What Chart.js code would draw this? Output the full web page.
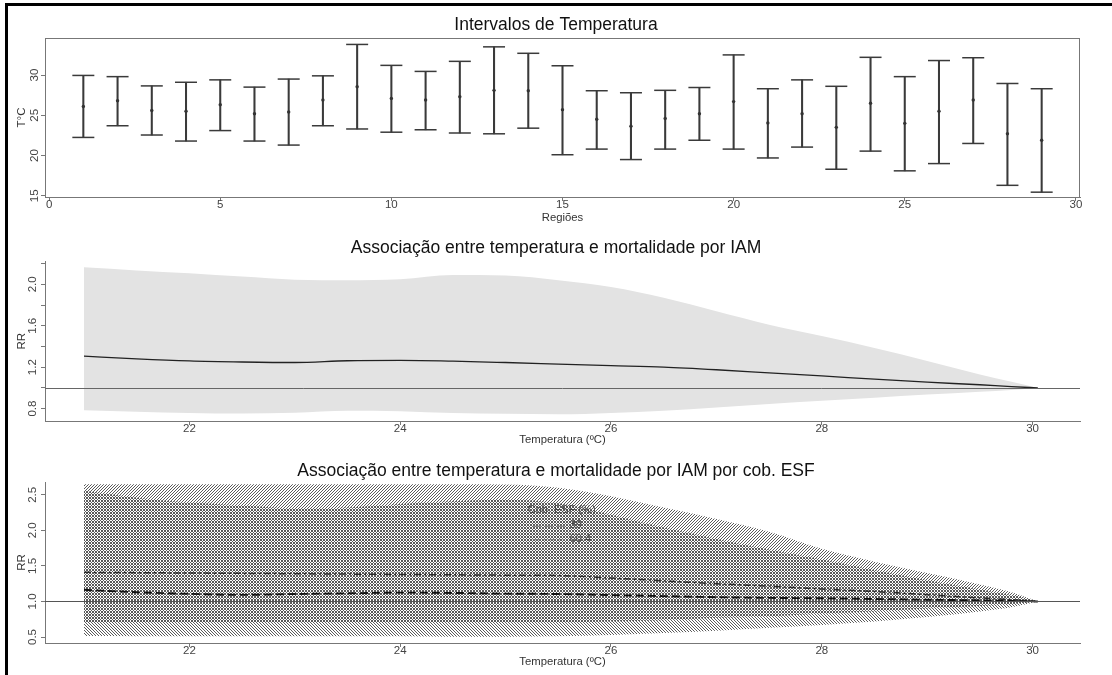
<!DOCTYPE html>
<html>
<head>
<meta charset="utf-8">
<script src="https://cdn.jsdelivr.net/npm/chart.js@4.4.1/dist/chart.umd.min.js"></script>
<style>
  html, body { margin:0; padding:0; background:#fff; width:1112px; height:675px; overflow:hidden; }
  .panel { position:absolute; left:0; }
  .panel canvas { display:block; }
  #frame { position:absolute; left:5px; top:3px; width:1120px; height:690px;
           border-left:3px solid #000; border-top:3px solid #000; pointer-events:none; z-index:5; }
</style>
</head>
<body>
<div class="panel" style="top:0px"><canvas id="c1" width="1112" height="228"></canvas></div>
<div class="panel" style="top:228px"><canvas id="c2" width="1112" height="222"></canvas></div>
<div class="panel" style="top:450px"><canvas id="c3" width="1112" height="225"></canvas></div>
<div id="frame"></div>
<script>
// ---------------- Panel 1: temperature intervals per region ----------------
const REGIONS = [1,2,3,4,5,6,7,8,9,10,11,12,13,14,15,16,17,18,19,20,21,22,23,24,25,26,27,28,29];
const T_MEAN = [26.1,26.8,25.6,25.5,26.3,25.2,25.4,26.9,28.55,27.1,26.9,27.3,28.1,28.05,25.7,24.5,23.65,24.6,25.2,26.7,24.05,25.2,23.5,26.5,24.0,25.5,26.9,22.7,21.9];
const T_MIN  = [22.25,23.7,22.55,21.8,23.1,21.8,21.3,23.7,23.3,22.9,23.2,22.8,22.7,23.4,20.1,20.8,19.5,20.8,21.9,20.8,19.7,21.05,18.3,20.55,18.1,19.0,21.5,16.3,15.45];
const T_MAX  = [29.95,29.8,28.65,29.1,29.4,28.5,29.5,29.9,33.8,31.2,30.45,31.7,33.5,32.7,31.15,28.05,27.8,28.1,28.45,32.5,28.3,29.4,28.6,32.2,29.8,31.8,32.15,28.95,28.3];
const X1_TICKS = [0,5,10,15,20,25,30];
const Y1_TICKS = [15,20,25,30];

// ---------------- Panel 2: RR vs temperature ----------------
const TEMPS   = [21,21.5,22,22.5,23,23.5,24,24.5,25,25.5,26,26.5,27,27.5,28,28.5,29,29.5,29.8,30.05];
const RR_MID  = [1.306,1.28,1.26,1.25,1.245,1.262,1.265,1.258,1.245,1.23,1.215,1.2,1.175,1.145,1.115,1.085,1.055,1.03,1.012,1.0];
const RR_LOW  = [0.784,0.77,0.757,0.752,0.76,0.78,0.775,0.757,0.75,0.745,0.758,0.78,0.81,0.845,0.875,0.905,0.935,0.962,0.98,1.0];
const RR_HIGH = [2.165,2.135,2.107,2.075,2.045,2.04,2.05,2.09,2.085,2.04,1.975,1.87,1.74,1.61,1.5,1.385,1.26,1.13,1.06,1.0];
const XT_TICKS = [22,24,26,28,30];
const Y2_TICKS = [0.8,1.0,1.2,1.4,1.6,1.8,2.0,2.2];
const Y2_LABELED = [0.8,1.2,1.6,2.0];

// ---------------- Panel 3: RR by ESF coverage ----------------
const ESF_GROUPS = ['39','60.4'];
const RR_39   = [1.164,1.13,1.107,1.093,1.105,1.115,1.125,1.12,1.11,1.105,1.09,1.075,1.06,1.05,1.045,1.035,1.025,1.015,1.008,1.0];
const LOW_39  = [0.514,0.512,0.51,0.51,0.51,0.51,0.51,0.505,0.505,0.51,0.53,0.555,0.59,0.63,0.67,0.72,0.78,0.86,0.92,1.0];
const HIGH_39 = [2.556,2.46,2.39,2.35,2.31,2.32,2.37,2.41,2.43,2.38,2.22,2.04,1.88,1.73,1.59,1.44,1.30,1.17,1.09,1.0];
const RR_604   = [1.41,1.405,1.40,1.395,1.39,1.385,1.38,1.375,1.37,1.365,1.33,1.29,1.25,1.215,1.175,1.14,1.095,1.05,1.025,1.0];
const LOW_604  = [0.71,0.71,0.71,0.71,0.71,0.71,0.71,0.71,0.71,0.71,0.72,0.735,0.77,0.79,0.83,0.86,0.9,0.935,0.965,1.0];
const HIGH_604 = [2.65,2.65,2.65,2.65,2.65,2.65,2.65,2.65,2.645,2.6,2.48,2.32,2.16,1.98,1.74,1.56,1.40,1.24,1.13,1.0];
const Y3_TICKS = [0.5,1.0,1.5,2.0,2.5];
const REF_RR = 1;
const LEGEND_TITLE = 'Cob. ESF (%)';
const LEGEND_POS = {x: 25.21, y: 2.29};

// ---------------- styling ----------------
const FONT = "'Liberation Sans', Arial, Helvetica, sans-serif";
const AXIS_COLOR = '#777';
const TICK_COLOR = '#444';
const TITLE_COLOR = '#111';
const TITLE_SIZE = 17.5;

function pts(xs, ys){ return xs.map((x,i)=>({x:x, y:ys[i]})); }

function xAxis(min, max, ticks, height, titleText, titlePadBottom){
  return {
    type:'linear', position:'bottom', min:min, max:max, offset:false,
    afterBuildTicks: s => { s.ticks = ticks.map(v => ({value:v})); },
    afterFit: s => { s.height = height; },
    grid:{display:true, drawOnChartArea:false, drawTicks:true, tickLength:4, color:AXIS_COLOR, offset:false},
    border:{display:true, color:AXIS_COLOR, width:1},
    ticks:{autoSkip:false, minRotation:0, maxRotation:0, padding:-3, color:TICK_COLOR,
           font:{family:FONT, size:11.5}, callback: v => String(v)},
    title:{display:true, text:titleText, color:'#333', font:{family:FONT, size:11.3},
           padding:{top:0, bottom:titlePadBottom}}
  };
}
function yAxis(min, max, ticks, labelFn, titleText){
  return {
    type:'linear', position:'left', min:min, max:max,
    afterBuildTicks: s => { s.ticks = ticks.map(v => ({value:v})); },
    afterFit: s => { s.width = 45; },
    grid:{display:true, drawOnChartArea:false, drawTicks:true, tickLength:4, color:AXIS_COLOR},
    border:{display:true, color:AXIS_COLOR, width:1},
    ticks:{autoSkip:false, minRotation:90, maxRotation:90, crossAlign:'center', padding:0,
           color:TICK_COLOR, font:{family:FONT, size:11.5}, callback: labelFn},
    title:{display:true, text:titleText, color:'#333', font:{family:FONT, size:11.5},
           padding:{top:15, bottom:0}}
  };
}
const rightSpacer = {
  position:'right', display:true, grid:{display:false}, border:{display:false},
  ticks:{display:false}, afterFit: s => { s.width = 32; }
};
function titleOpt(text, top, bottom){
  return {display:true, text:text, color:TITLE_COLOR,
          font:{family:FONT, size:TITLE_SIZE, weight:'normal', lineHeight:1.2}, padding:{top:top, bottom:bottom}};
}

const boxPlugin = {
  id:'boxPlugin',
  afterDraw(chart){
    const a = chart.chartArea, ctx = chart.ctx;
    ctx.save(); ctx.strokeStyle = AXIS_COLOR; ctx.lineWidth = 1;
    ctx.strokeRect(Math.round(a.left)+0.5, Math.round(a.top)+0.5,
                   Math.round(a.right-a.left)-1, Math.round(a.bottom-a.top));
    ctx.restore();
  }
};
const refLine = {
  id:'refLine',
  afterDatasetsDraw(chart, args, opts){
    const a = chart.chartArea, ctx = chart.ctx, y = chart.scales.y;
    const py = Math.round(y.getPixelForValue(REF_RR)) + 0.5;
    ctx.save(); ctx.strokeStyle = opts.color || '#666'; ctx.lineWidth = 1;
    ctx.beginPath(); ctx.moveTo(a.left, py); ctx.lineTo(a.right, py); ctx.stroke();
    ctx.restore();
  }
};

// ---------------- Chart 1 ----------------
new Chart(document.getElementById('c1'), {
  type:'bar',
  data:{ datasets:[
    {type:'scatter', label:'média', data:pts(REGIONS, T_MEAN), pointStyle:'circle', pointRadius:1.7,
     backgroundColor:'#333', borderColor:'#333', borderWidth:0},
    {type:'scatter', label:'máx', data:pts(REGIONS, T_MAX), pointStyle:'line', pointRadius:11,
     borderColor:'#3a3a3a', borderWidth:1.5},
    {type:'scatter', label:'mín', data:pts(REGIONS, T_MIN), pointStyle:'line', pointRadius:11,
     borderColor:'#3a3a3a', borderWidth:1.5},
    {type:'bar', label:'intervalo', data:REGIONS.map((r,i)=>({x:r, y:[T_MIN[i], T_MAX[i]]})),
     backgroundColor:'#3a3a3a', borderWidth:0, barThickness:1.4, grouped:false}
  ]},
  options:{
    responsive:false, animation:false, devicePixelRatio:1, layout:{padding:0},
    plugins:{legend:{display:false}, tooltip:{enabled:false},
             title:titleOpt('Intervalos de Temperatura', 14.5, 2.5)},
    scales:{
      x: xAxis(-0.12, 30.12, X1_TICKS, 31, 'Regiões', 3),
      y: yAxis(14.85, 34.6, Y1_TICKS, v => String(v), 'T°C'),
      yR: rightSpacer
    }
  },
  plugins:[boxPlugin]
});

// ---------------- Chart 2 ----------------
new Chart(document.getElementById('c2'), {
  type:'line',
  data:{ datasets:[
    {label:'RR', data:pts(TEMPS, RR_MID), borderColor:'#222', borderWidth:1.3, pointRadius:0,
     cubicInterpolationMode:'monotone', fill:false},
    {label:'IC inf', data:pts(TEMPS, RR_LOW), borderWidth:0, borderColor:'rgba(0,0,0,0)', pointRadius:0,
     cubicInterpolationMode:'monotone', fill:false},
    {label:'IC sup', data:pts(TEMPS, RR_HIGH), borderWidth:0, borderColor:'rgba(0,0,0,0)', pointRadius:0,
     cubicInterpolationMode:'monotone', fill:1, backgroundColor:'#e3e3e3'}
  ]},
  options:{
    responsive:false, animation:false, devicePixelRatio:1, layout:{padding:0},
    plugins:{legend:{display:false}, tooltip:{enabled:false},
             title:titleOpt('Associação entre temperatura e mortalidade por IAM', 9.8, 2.8),
             refLine:{color:'#666'}},
    scales:{
      x: xAxis(20.63, 30.45, XT_TICKS, 29, 'Temperatura (ºC)', 3),
      y: yAxis(0.68, 2.22, Y2_TICKS,
               v => Y2_LABELED.some(l => Math.abs(l - v) < 1e-6) ? v.toFixed(1) : '', 'RR'),
      yR: rightSpacer
    }
  },
  plugins:[refLine]
});

// ---------------- Chart 3 ----------------
const c3 = document.getElementById('c3');
function hatch(dir){
  const s = 3, t = document.createElement('canvas');
  t.width = s; t.height = s;
  const g = t.getContext('2d');
  g.strokeStyle = '#5a5a5a'; g.lineWidth = 1; g.beginPath();
  if (dir === '/') {
    g.moveTo(0, s); g.lineTo(s, 0); g.moveTo(-1, 1); g.lineTo(1, -1); g.moveTo(s-1, s+1); g.lineTo(s+1, s-1);
  } else {
    g.moveTo(0, 0); g.lineTo(s, s); g.moveTo(-1, s-1); g.lineTo(1, s+1); g.moveTo(s-1, -1); g.lineTo(s+1, 1);
  }
  g.stroke();
  return c3.getContext('2d').createPattern(t, 'repeat');
}
const DASH_39 = [8,4];
const DASH_604 = [7,3,2,3];
const esfLegend = {
  id:'esfLegend',
  afterDatasetsDraw(chart){
    const ctx = chart.ctx, x = chart.scales.x, y = chart.scales.y;
    const px = x.getPixelForValue(LEGEND_POS.x), py = y.getPixelForValue(LEGEND_POS.y);
    ctx.save();
    ctx.font = '11px ' + FONT; ctx.fillStyle = '#444'; ctx.textBaseline = 'middle'; ctx.textAlign = 'left';
    ctx.fillText(LEGEND_TITLE, px, py);
    const dashes = [DASH_39, DASH_604];
    ESF_GROUPS.forEach((g, i) => {
      const yy = py + 15.5 + i * 13.5;
      ctx.strokeStyle = '#777'; ctx.lineWidth = 1; ctx.setLineDash(dashes[i]);
      ctx.beginPath(); ctx.moveTo(px + 5, yy + 1); ctx.lineTo(px + 37, yy + 1); ctx.stroke();
      ctx.setLineDash([]);
      ctx.fillText(g, px + 42, yy);
    });
    ctx.restore();
  }
};
new Chart(c3, {
  type:'line',
  data:{ datasets:[
    {label:'60.4', data:pts(TEMPS, RR_604), borderColor:'#2a2a2a', borderWidth:1.5, borderDash:DASH_604,
     pointRadius:0, cubicInterpolationMode:'monotone', fill:false},
    {label:'39', data:pts(TEMPS, RR_39), borderColor:'#111', borderWidth:1.9, borderDash:DASH_39,
     pointRadius:0, cubicInterpolationMode:'monotone', fill:false},
    {label:'60.4 inf', data:pts(TEMPS, LOW_604), borderWidth:0, borderColor:'rgba(0,0,0,0)', pointRadius:0,
     cubicInterpolationMode:'monotone', fill:false},
    {label:'60.4 sup', data:pts(TEMPS, HIGH_604), borderWidth:0, borderColor:'rgba(0,0,0,0)', pointRadius:0,
     cubicInterpolationMode:'monotone', fill:2, backgroundColor:hatch('/')},
    {label:'39 inf', data:pts(TEMPS, LOW_39), borderWidth:0, borderColor:'rgba(0,0,0,0)', pointRadius:0,
     cubicInterpolationMode:'monotone', fill:false},
    {label:'39 sup', data:pts(TEMPS, HIGH_39), borderWidth:0, borderColor:'rgba(0,0,0,0)', pointRadius:0,
     cubicInterpolationMode:'monotone', fill:4, backgroundColor:hatch('\\')}
  ]},
  options:{
    responsive:false, animation:false, devicePixelRatio:1, layout:{padding:0},
    plugins:{legend:{display:false}, tooltip:{enabled:false},
             title:titleOpt('Associação entre temperatura e mortalidade por IAM por cob. ESF', 11, 0),
             refLine:{color:'#555'}},
    scales:{
      x: xAxis(20.63, 30.45, XT_TICKS, 32, 'Temperatura (ºC)', 6),
      y: yAxis(0.416, 2.68, Y3_TICKS, v => v.toFixed(1), 'RR'),
      yR: rightSpacer
    }
  },
  plugins:[refLine, esfLegend]
});
</script>
</body>
</html>
